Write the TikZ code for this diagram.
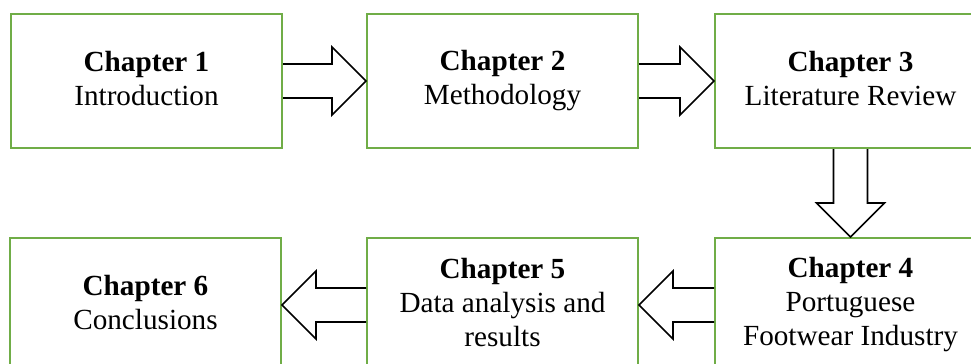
\documentclass[tikz,border=0pt]{standalone}
\usepackage{fontspec}
\setmainfont{Liberation Serif}
\usepackage{tikz}
\usetikzlibrary{positioning,calc}

\definecolor{chapgreen}{HTML}{70AD47}

% outlined block arrow from tail (#1) to tip (#2)
\newcommand{\blockarrow}[2]{%
  \path ($(#2)!17pt!(#1)$) coordinate (hb);
  \draw[blockarr] ($(#1)!8.5pt!90:(#2)$) -- ($(hb)!8.5pt!90:(#2)$)
    -- ($(hb)!17pt!90:(#2)$) -- (#2) -- ($(hb)!17pt!-90:(#2)$)
    -- ($(hb)!8.5pt!-90:(#2)$) -- ($(#1)!8.5pt!-90:(#2)$);}

\begin{document}
\begin{tikzpicture}[
    chapbox/.style={draw=chapgreen, line width=1pt, fill=white, align=center,
      minimum width=135.5pt, minimum height=67pt, inner sep=0pt,
      font=\fontsize{14.6}{17}\selectfont,
      execute at begin node=\rule{0pt}{13.9pt},
      execute at end node=\rule[-3.1pt]{0pt}{0pt}},
    blockarr/.style={draw=black, line width=0.8pt, line join=miter}
  ]
    \useasboundingbox (0,0) rectangle (485.5pt,-182pt);
    \clip (0,0) rectangle (485.5pt,-182pt);
    % top row
    \node[chapbox] (ch1) at (73.25pt,-40.5pt) {\textbf{Chapter 1}\\Introduction};
    \node[chapbox, right=41.5pt of ch1] (ch2) {\textbf{Chapter 2}\\Methodology};
    \node[chapbox, right=37.5pt of ch2] (ch3) {\textbf{Chapter 3}\\Literature Review};
    % bottom row
    \node[chapbox, below=44pt of ch3] (ch4) {\textbf{Chapter 4}\\Portuguese\\Footwear Industry};
    \node[chapbox, left=37.5pt of ch4] (ch5) {\textbf{Chapter 5}\\Data analysis and\\results};
    \node[chapbox, left=42pt of ch5] (ch6) {\textbf{Chapter 6}\\Conclusions};
    % arrows
    \blockarrow{ch1.east}{ch2.west}
    \blockarrow{ch2.east}{ch3.west}
    \blockarrow{ch3.south}{ch4.north}
    \blockarrow{ch4.west}{ch5.east}
    \blockarrow{ch5.west}{ch6.east}
\end{tikzpicture}
\end{document}
